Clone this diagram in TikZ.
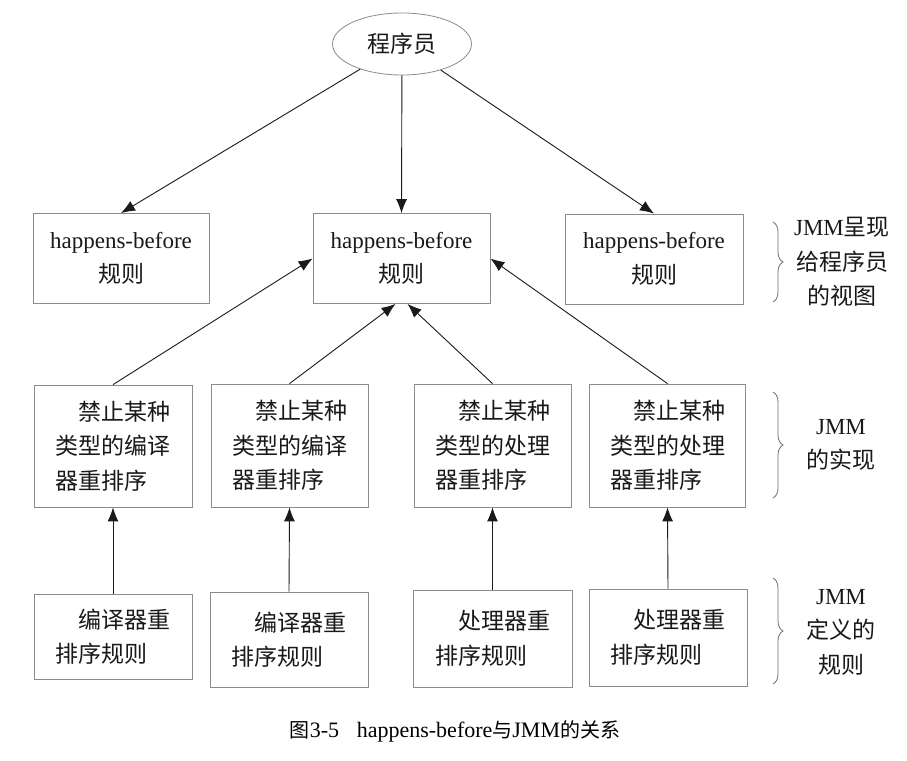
\documentclass[tikz,border=0pt]{standalone}
\usepackage{fontspec}
\setmainfont{Liberation Serif}
\newfontfamily\cjk{Noto Sans CJK SC}
\usetikzlibrary{arrows.meta,decorations.pathreplacing,shapes.geometric}
\newcommand{\lat}[1]{{\rmfamily #1}}
\definecolor{boxgray}{HTML}{8C8C8C}
\definecolor{bracegray}{HTML}{6E6E6E}
\definecolor{arrowcol}{HTML}{1A1A1A}
\tikzset{
  txt/.style={font=\cjk\fontsize{23}{34.5}\selectfont, text=black!90},
  box/.style={txt, draw=boxgray, line width=0.8pt, rectangle, inner sep=0pt, align=center},
  lbox/.style={box, align=left},
  oval/.style={txt, draw=boxgray, line width=0.8pt, ellipse, inner sep=0pt},
  arr/.style={draw=arrowcol, line width=0.9pt, -{Latex[length=14pt,width=11pt]}},
  bracedeco/.style={draw=bracegray, line width=0.8pt, decorate, decoration={brace,amplitude=10pt}},
  side/.style={txt, align=center, inner sep=0pt},
}
\begin{document}
\begin{tikzpicture}[x=1pt,y=-1pt]
\useasboundingbox (0,0) rectangle (907,760);
\fill[white] (0,0) rectangle (907,760);

% programmer
\node[oval, minimum width=139pt, minimum height=62pt] (prog) at (402,44) {程序员};

% top row
\node[box, minimum width=176pt, minimum height=90pt] (h1) at (121,258.5) {\lat{happens-before}\\规则};
\node[box, minimum width=177pt, minimum height=90pt] (h2) at (401.5,258.5) {\lat{happens-before}\\规则};
\node[box, minimum width=178pt, minimum height=90pt] (h3) at (654,259) {\lat{happens-before}\\规则};

% middle row
\node[lbox, minimum width=158pt, minimum height=122pt] (mA) at (113,446) {\hspace*{1em}禁止某种\\类型的编译\\器重排序};
\node[lbox, minimum width=157pt, minimum height=123pt] (mB) at (289.5,445.5) {\hspace*{1em}禁止某种\\类型的编译\\器重排序};
\node[lbox, minimum width=157pt, minimum height=123pt] (mC) at (492.5,445.5) {\hspace*{1em}禁止某种\\类型的处理\\器重排序};
\node[lbox, minimum width=156pt, minimum height=123pt] (mD) at (667.5,445.5) {\hspace*{1em}禁止某种\\类型的处理\\器重排序};

% bottom row
\node[lbox, minimum width=158pt, minimum height=85pt] (bA) at (113,636.5) {\hspace*{1em}编译器重\\排序规则};
\node[lbox, minimum width=158pt, minimum height=95pt] (bB) at (289,639.5) {\hspace*{1em}编译器重\\排序规则};
\node[lbox, minimum width=159pt, minimum height=97pt] (bC) at (492.5,638.5) {\hspace*{1em}处理器重\\排序规则};
\node[lbox, minimum width=158pt, minimum height=97pt] (bD) at (668,637.5) {\hspace*{1em}处理器重\\排序规则};

% arrows from programmer
\draw[arr] (prog) -- (h1.north);
\draw[arr] (prog) -- (h2.north);
\draw[arr] (prog) -- (h3.north);

% arrows from middle row to central rule box
\draw[arr] (mA.north) -- (h2.west);
\draw[arr] (mB.north) -- ([xshift=-6pt]h2.south);
\draw[arr] (mC.north) -- ([xshift=6pt]h2.south);
\draw[arr] (mD.north) -- (h2.east);

% arrows from bottom row to middle row
\draw[arr] (bA.north) -- (mA.south);
\draw[arr] (bB.north) -- (mB.south);
\draw[arr] (bC.north) -- (mC.south);
\draw[arr] (bD.north) -- (mD.south);

% braces
\draw[bracedeco] (773,222) -- (773,302);
\draw[bracedeco] (773,392) -- (773,498);
\draw[bracedeco] (773,578) -- (773,684);

\node[side] (s1) at (842,262) {\lat{JMM}呈现\\给程序员\\的视图};
\node[side] (s2) at (841,445) {\lat{JMM}\\的实现};
\node[side] (s3) at (841,632) {\lat{JMM}\\定义的\\规则};

% caption
\node[font=\cjk\fontsize{20}{24}\selectfont, inner sep=0pt, anchor=center] (cap) at (455,731)
  {图{\rmfamily\fontsize{22}{24}\selectfont 3-5\hspace{0.8em}happens-before}与{\rmfamily\fontsize{22}{24}\selectfont JMM}的关系};
\end{tikzpicture}
\end{document}
